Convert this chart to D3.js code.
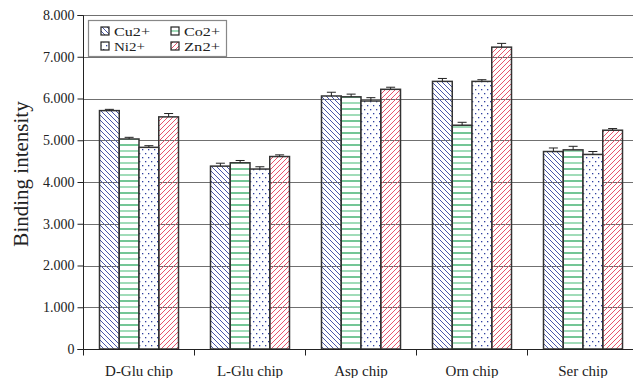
<!DOCTYPE html>
<html><head><meta charset="utf-8">
<script src="https://cdn.jsdelivr.net/npm/d3@7"></script>
<style>body{margin:0;background:#fff}svg{display:block}text{font-family:"Liberation Serif","Times New Roman",serif}</style>
</head><body>
<script>
const categories = ["D-Glu chip","L-Glu chip","Asp chip","Orn chip","Ser chip"];
const seriesNames = ["Cu2+","Co2+","Ni2+","Zn2+"];
const cuValues = [5.71,4.38,6.06,6.41,4.73];
const coValues = [5.03,4.46,6.04,5.36,4.77];
const niValues = [4.83,4.31,5.94,6.41,4.66];
const znValues = [5.56,4.61,6.22,7.23,5.24];
const cuErr = [0.03,0.07,0.09,0.07,0.085];
const coErr = [0.04,0.055,0.065,0.07,0.085];
const niErr = [0.04,0.055,0.08,0.04,0.07];
const znErr = [0.08,0.04,0.05,0.09,0.04];
const yTicks = [0,1,2,3,4,5,6,7,8];
const yTickLabels = ["0","1.000","2.000","3.000","4.000","5.000","6.000","7.000","8.000"];
const yLabel = "Binding intensity";

const W=633,H=378;
const svg=d3.select("body").append("svg").attr("width",W).attr("height",H);
const defs=svg.append("defs");
// patterns
const pCu=defs.append("pattern").attr("id","pCu").attr("patternUnits","userSpaceOnUse").attr("width",5).attr("height",5);
pCu.append("path").attr("d","M0,0L5,5M-1,4L1,6M4,-1L6,1").attr("stroke","#4a58aa").attr("stroke-width",1);
const pZn=defs.append("pattern").attr("id","pZn").attr("patternUnits","userSpaceOnUse").attr("width",5).attr("height",5);
pZn.append("path").attr("d","M0,5L5,0M-1,1L1,-1M4,6L6,4").attr("stroke","#e8546c").attr("stroke-width",1);
const pCo=defs.append("pattern").attr("id","pCo").attr("patternUnits","userSpaceOnUse").attr("width",10).attr("height",12);
pCo.append("rect").attr("width",10).attr("height",12).attr("fill","#fff");
pCo.append("line").attr("x1",0).attr("x2",10).attr("y1",1).attr("y2",1).attr("stroke","#18a050").attr("stroke-width",1.2);
pCo.append("line").attr("x1",0).attr("x2",10).attr("y1",7).attr("y2",7).attr("stroke","#8ad4a8").attr("stroke-width",1.6);
const pNi=defs.append("pattern").attr("id","pNi").attr("patternUnits","userSpaceOnUse").attr("width",6).attr("height",8);
pNi.append("rect").attr("width",6).attr("height",8).attr("fill","#fff");
pNi.append("rect").attr("x",1).attr("y",1).attr("width",1.3).attr("height",1.3).attr("fill","#3040a0");
pNi.append("rect").attr("x",4).attr("y",5).attr("width",1.3).attr("height",1.3).attr("fill","#3040a0");
const fills=["url(#pCu)","url(#pCo)","url(#pNi)","url(#pZn)"];
const values=[cuValues,coValues,niValues,znValues];
const errs=[cuErr,coErr,niErr,znErr];

const x0=d3.scaleBand().domain(categories).range([83.5,638.5]).paddingInner(0).paddingOuter(0);
const y=d3.scaleLinear().domain([0,8]).range([349,15]);
const innerPad=16;
const x1=d3.scaleBand().domain(seriesNames).range([innerPad,x0.bandwidth()-innerPad]);

// gridlines
svg.append("g").selectAll("line").data(yTicks.filter(d=>d>0)).join("line")
  .attr("x1",83.5).attr("x2",W).attr("y1",d=>Math.round(y(d))+0.5).attr("y2",d=>Math.round(y(d))+0.5)
  .attr("stroke","#707070").attr("stroke-width",1.2);

// bars
const data=[];
categories.forEach((c,i)=>seriesNames.forEach((s,j)=>data.push({c,s,j,v:values[j][i],e:errs[j][i]})));
svg.append("g").selectAll("rect").data(data).join("rect")
  .attr("x",d=>x0(d.c)+x1(d.s)).attr("width",x1.bandwidth())
  .attr("y",d=>y(d.v)).attr("height",d=>y(0)-y(d.v))
  .attr("fill",d=>fills[d.j]).attr("stroke","#333").attr("stroke-width",1.5);
// error bars
const eb=svg.append("g").attr("stroke","#222").attr("stroke-width",1);
data.forEach(d=>{
  const cx=x0(d.c)+x1(d.s)+x1.bandwidth()/2;
  eb.append("line").attr("x1",cx).attr("x2",cx).attr("y1",y(d.v)).attr("y2",y(d.v+d.e));
  eb.append("line").attr("x1",cx-4.5).attr("x2",cx+4.5).attr("y1",y(d.v+d.e)).attr("y2",y(d.v+d.e));
});

// y axis
const yAxis=d3.axisLeft(y).tickValues(yTicks).tickFormat((d,i)=>yTickLabels[i]).tickSize(6).tickPadding(3);
const ya=svg.append("g").attr("transform","translate(83.5,0)").call(yAxis);
ya.select(".domain").attr("stroke","#222").attr("d","M-6,15.5H0V349.5H-6");
ya.selectAll(".tick line").attr("stroke","#222");
ya.selectAll("text").attr("font-size",14).attr("font-family","Liberation Serif").attr("fill","#222");

// x axis
const xa=svg.append("g").attr("transform","translate(0,349.5)");
xa.append("line").attr("x1",83.5).attr("x2",W).attr("stroke","#222");
xa.selectAll(".tk").data(categories).join("line").attr("class","tk")
  .attr("x1",d=>x0(d)).attr("x2",d=>x0(d)).attr("y1",0).attr("y2",6).attr("stroke","#222");
xa.selectAll("text").data(categories).join("text")
  .attr("x",d=>x0(d)+x0.bandwidth()/2).attr("y",26).attr("text-anchor","middle")
  .attr("font-size",15).attr("fill","#222").text(d=>d);

// y label
svg.append("text").attr("transform","translate(28,174) rotate(-90)").attr("text-anchor","middle")
  .attr("font-size",21).attr("fill","#222").text(yLabel);

// legend
const lg=svg.append("g");
lg.append("rect").attr("x",88.5).attr("y",20.5).attr("width",138).attr("height",36).attr("fill","#fff").attr("stroke","#888").attr("stroke-width",1.2);
const legPos={"Cu2+":[101,31],"Co2+":[171,31],"Ni2+":[101,46],"Zn2+":[171,46]};
seriesNames.forEach((s,j)=>{
  const [lx,ly]=legPos[s];
  lg.append("rect").attr("x",lx).attr("y",ly-4).attr("width",8).attr("height",8).attr("fill",fills[j]).attr("stroke","#222").attr("stroke-width",1.2);
  lg.append("text").attr("x",lx+13).attr("y",ly+5).attr("font-size",13.5).attr("fill","#222")
    .attr("textLength",s==="Ni2+"?31:36).attr("lengthAdjust","spacingAndGlyphs").text(s);
});
</script>
</body></html>
